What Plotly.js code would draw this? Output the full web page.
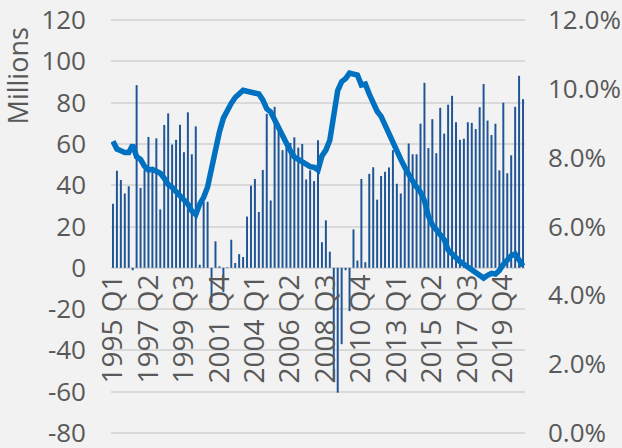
<!DOCTYPE html>
<html>
<head>
<meta charset="utf-8">
<script src="https://cdn.plot.ly/plotly-3.0.1.min.js"></script>
<style>
  html, body { margin: 0; padding: 0; background: #f2f2f2; }
</style>
</head>
<body>
<div id="chart" style="width:622px;height:448px;"></div>
<script>
// quarter names, 1995 Q1 .. 2021 Q1
const quarters = [];
for (let y = 1995; y <= 2021; y++) {
  for (let q = 1; q <= 4; q++) quarters.push(y + " Q" + q);
}
quarters.length = 105;

// labels shown on the category axis
const tickLabels = ["1995 Q1", "1997 Q2", "1999 Q3", "2001 Q4", "2004 Q1", "2006 Q2",
  "2008 Q3", "2010 Q4", "2013 Q1", "2015 Q2", "2017 Q3", "2019 Q4"];

// left axis ticks (millions) and right axis ticks (percent)
const leftTicks = [-80, -60, -40, -20, 0, 20, 40, 60, 80, 100, 120];
const leftTickText = ["-80", "-60", "-40", "-20", "0", "20", "40", "60", "80", "100", "120"];
const rightTicks = [0, 2, 4, 6, 8, 10, 12];
const rightTickText = ["0.0%", "2.0%", "4.0%", "6.0%", "8.0%", "10.0%", "12.0%"];

// bars, left axis (millions)
const barValues = [
  31, 47, 42.5, 36, 39.5, -1.2, 88.5, 38.7, 47.5, 63.4,
  48.5, 62.7, 28.3, 69.2, 74.8, 59.7, 62, 69.3, 56, 75.3,
  55, 68.5, 1.5, 32, 32, -17, 12.8, 0.7, -11.7, 0.3,
  13.6, 2.3, 6.6, 5.2, 24.8, 39.8, 43, 27, 47.4, 74.6,
  32.6, 78, 65.8, 57, 59.8, 60.5, 63.2, 58.2, 60, 42.8,
  47.2, 42, 61.8, 12.4, 23, 7.8, -55, -60.5, -37, -1.2,
  -21, 18.6, 3.5, 43, 2.7, 45.5, 48.7, 33, 44.5, 46.5,
  48.6, 57, 40.7, 36, 47, 60.2, 55, 55, 69.8, 89.6,
  58, 72, 55.5, 77.5, 65, 79, 83.3, 70.5, 62, 62.5,
  70.5, 70.2, 67.2, 77.8, 89, 71.3, 64.3, 69.8, 47.2, 80,
  45.8, 54.5, 78, 93, 81.7
];

// line, right axis (percent)
const rateValues = [
  8.48, 8.25, 8.2, 8.15, 8.15, 8.37, 8.03, 7.95, 7.75, 7.64,
  7.66, 7.62, 7.55, 7.4, 7.22, 7.14, 7.02, 6.94, 6.82, 6.65,
  6.45, 6.35, 6.65, 6.85, 7.15, 7.7, 8.25, 8.75, 9.15, 9.38,
  9.58, 9.75, 9.88, 9.96, 9.93, 9.9, 9.9, 9.85, 9.68, 9.42,
  9.33, 9.1, 8.8, 8.6, 8.42, 8.2, 8.02, 7.95, 7.88, 7.78,
  7.74, 7.72, 7.64, 8.05, 8.22, 8.51, 9.3, 9.95, 10.21, 10.3,
  10.46, 10.43, 10.4, 10.11, 10.14, 9.85, 9.55, 9.35, 9.2, 8.95,
  8.65, 8.37, 8.18, 7.95, 7.72, 7.5, 7.32, 7.15, 7.0, 6.75,
  6.3, 6.05, 5.92, 5.8, 5.62, 5.32, 5.2, 5.1, 4.98, 4.9,
  4.82, 4.76, 4.7, 4.6, 4.5, 4.58, 4.64, 4.62, 4.72, 4.9,
  5.02, 5.15, 5.2, 5.05, 4.85
];

const textColor = "#595959";
const fontFamily = "'Open Sans', sans-serif";

let data = [
  {
    x: quarters,
    y: barValues,
    type: "bar",
    marker: { color: "#1f5596" },
  },
  {
    x: quarters,
    y: rateValues,
    type: "scatter",
    mode: "lines",
    yaxis: "y2",
    line: { color: "#0070c0", width: 5.5 },
  },
];

// ranges padded by one unit so the 120 / -80 gridlines are drawn inside the plot
let layout = {
  width: 622,
  height: 448,
  paper_bgcolor: "#f2f2f2",
  plot_bgcolor: "#f2f2f2",
  showlegend: false,
  bargap: 0.5,
  margin: { l: 111, r: 97, t: 18, b: 13 },
  font: { family: fontFamily, color: textColor },
  xaxis: {
    type: "category",
    anchor: "free",
    position: 81 / 202,
    tickmode: "array",
    tickvals: tickLabels,
    ticktext: tickLabels,
    tickangle: -90,
    tickfont: { size: 28, color: textColor },
    showgrid: false,
    showline: false,
    zeroline: false,
    ticks: "",
  },
  yaxis: {
    range: [-81, 121],
    tickmode: "array",
    tickvals: leftTicks,
    ticktext: leftTickText,
    showgrid: true,
    gridcolor: "#d9d9d9",
    gridwidth: 2,
    zeroline: false,
    showline: false,
    ticks: "",
    ticklabelstandoff: 24,
    ticklabeloverflow: "allow",
    tickfont: { size: 26, color: textColor },
  },
  yaxis2: {
    overlaying: "y",
    side: "right",
    range: [-0.06, 12.06],
    tickmode: "array",
    tickvals: rightTicks,
    ticktext: rightTickText,
    showgrid: false,
    zeroline: false,
    showline: false,
    ticks: "",
    ticklabelstandoff: 22,
    ticklabeloverflow: "allow",
    tickfont: { size: 26, color: textColor },
  },
  annotations: [
    {
      text: "Millions",
      xref: "paper",
      yref: "paper",
      x: -0.227,
      y: 0.86,
      xanchor: "center",
      yanchor: "middle",
      textangle: -90,
      showarrow: false,
      font: { size: 27, color: textColor },
    },
  ],
};

Plotly.newPlot("chart", data, layout, { staticPlot: true });
</script>
</body>
</html>
